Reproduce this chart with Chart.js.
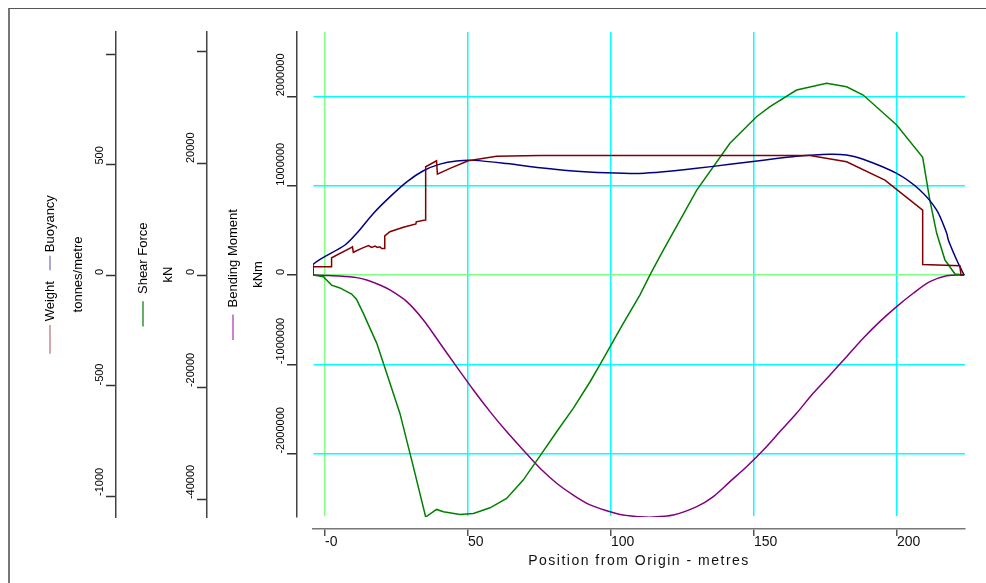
<!DOCTYPE html>
<html lang="en">
<head>
  <meta charset="UTF-8">
  <title>Longitudinal Strength</title>
  <script src="https://cdn.jsdelivr.net/npm/chart.js"></script>
  <style>
    * { margin: 0; padding: 0; box-sizing: border-box; }
    body { width: 986px; height: 583px; overflow: hidden; background: #fff; position: relative; }
    .frame {
      position: absolute; left: 8px; top: 8px; width: 1200px; height: 800px;
      border-left: 2px solid #777; border-top: 1px solid #555;
    }
    #strengthChart { position: absolute; left: 0; top: 0; }
  </style>
</head>
<body>
  <div class="frame"></div>
  <canvas id="strengthChart" width="986" height="583"></canvas>

  <script>
    const FONT = '"Liberation Sans", Arial, sans-serif';
    Chart.defaults.font.family = FONT;
    Chart.defaults.color = '#000';

    // position from origin (m) and values
    const weightX = [-4.2, -4.2, 2.3, 2.3, 9.3, 9.6, 9.9, 12.8, 15.2, 16.3, 17.5, 18.3, 19.2, 19.8, 20.8, 20.9, 22.7, 27.4,
      31.8, 31.9, 35.0, 35.2, 39.0, 39.3, 43.7, 50.1, 60, 75, 169.6, 182.4, 195.8, 209, 209, 222, 222.4, 223.5];
    const weightY = [0, 38, 38, 78, 125, 128, 103, 121, 133, 125, 131, 125, 128, 120, 120, 177, 196, 216,
      231, 241, 249, 490, 517, 457, 483, 517, 538, 541, 541, 513, 430, 294, 48, 42, 0, 0];

    const buoyX = [-4.2, -4.2, 7.0, 11.1, 16.9, 22.7, 28.6, 34.4, 40.2, 46.0, 51.9, 63.5, 75.2, 86.8, 98.5, 110.1,
      118.3, 130, 141.6, 153.3, 164.9, 176.6, 182.4, 188.2, 199.9, 208, 213.9, 217.4, 218.0, 220.9, 222.6, 223.5];
    const buoyY = [0, 48, 136, 189, 279, 354, 422, 472, 502, 516, 519, 505, 486, 471, 463, 460,
      467, 483, 501, 520, 538, 547, 543, 524, 460, 385, 294, 189, 158, 68, 23, 0];

    const shearX = [-4.2, -0.6, 2.3, 5.2, 9.3, 11.0, 13.4, 18.1, 21.6, 26.2, 30.9, 35.2, 39.0, 41.4, 47.2, 51.9, 57.7,
      63.5, 69.3, 75.8, 81.0, 86.8, 92.7, 96.2, 104.3, 110.1, 113.6, 118.3, 130, 141.6, 150.9, 155.6, 164.9, 175.4,
      182.4, 188.2, 199.9, 209, 211.5, 213.9, 216.8, 220.3, 223.5];
    const shearY = [0, -300, -1790, -2300, -3400, -4300, -6840, -12200, -17560, -24700, -34240, -43200, -41850, -42270,
      -42740, -42560, -41560, -39890, -36610, -31850, -27980, -23810, -19050, -15950, -8630, -3570, 0, 4465, 15180,
      23520, 28270, 30060, 33040, 34240, 33630, 32150, 26790, 21020, 13395, 7450, 2680, 180, 0];

    const bendX = [-4.2, 0, 5, 11.1, 14.6, 19.2, 22.7, 28.6, 34.4, 40.2, 46, 51.9, 57.7, 63.5, 69.3, 75.2, 81, 86.8,
      92.7, 98.5, 104.3, 110.1, 113.6, 121.8, 130, 135.8, 141.6, 147.4, 153.3, 159.1, 164.9, 170.7, 176.6, 182.4,
      188.2, 194, 199.9, 205.7, 211.5, 217.4, 223.5];
    const bendY = [0, -5000, -12000, -30000, -56000, -112000, -168000, -299000, -504000, -765000, -1027000, -1288000,
      -1530000, -1754000, -1960000, -2165000, -2332000, -2464000, -2575000, -2639000, -2688000, -2708000, -2712000,
      -2688000, -2594000, -2482000, -2314000, -2147000, -1960000, -1754000, -1549000, -1325000, -1120000, -915000,
      -709000, -523000, -355000, -205000, -75000, -8000, 0];

    const xTicks = [0, 50, 100, 150, 200];
    const xTickLabels = ['-0', '50', '100', '150', '200'];
    const weightTicks = [-1000, -500, 0, 500, 1000];
    const weightTickLabels = ['-1000', '-500', '0', '500', ''];
    const shearTicks = [-40000, -20000, 0, 20000, 40000];
    const shearTickLabels = ['-40000', '-20000', '0', '20000', ''];
    const bendTicks = [-2000000, -1000000, 0, 1000000, 2000000];
    const bendTickLabels = ['-2000000', '-1000000', '0', '1000000', '2000000'];

    // axis titles; the space runs get a coloured key line drawn over them
    const legendLines = {
      yW: { text: '         Weight        Buoyancy', lh: 28, pad: 6, segs: [[0, 8, '#c07878'], [18, 22, '#7878c8']] },
      yS: { text: '         Shear Force', lh: 25, pad: 14.5, segs: [[0, 7, '#188018']] },
      yB: { text: '         Bending Moment', lh: 25, pad: 13.5, segs: [[0, 7, '#b040b0']] }
    };

    const pts = (xs, ys) => xs.map((x, i) => ({ x: x, y: ys[i] }));
    const fixTicks = vals => scale => { scale.ticks = vals.map(v => ({ value: v })); };
    const gridColor = c => (c.tick && c.tick.value === 0) ? '#80ff80' : '#00ffff';

    function sideAxis(weight, width, min, max, ticks, labels, key, unit, grid) {
      return {
        type: 'linear', position: 'left', weight: weight, min: min, max: max,
        afterBuildTicks: fixTicks(ticks),
        afterFit: s => { s.width = width; },
        grid: Object.assign({ tickLength: 10, tickColor: '#333', tickWidth: 1.5 }, grid),
        border: { color: '#444', width: 1.5 },
        ticks: {
          callback: (v, i) => labels[i], minRotation: 90, maxRotation: 90, padding: 6,
          crossAlign: 'near', autoSkip: false, font: { size: 11 }, color: '#000'
        },
        title: {
          display: true, text: [legendLines[key].text, unit], color: '#000',
          font: { size: 13, lineHeight: legendLines[key].lh + 'px' },
          padding: { top: legendLines[key].pad, bottom: 0 }
        }
      };
    }

    const axisDecor = {
      id: 'axisDecor',
      beforeDraw(chart) {
        // rotated labels read upwards from their tick
        ['yW', 'yS', 'yB'].forEach(id => {
          chart.scales[id].getLabelItems().forEach(item => { item.options.textAlign = 'left'; });
        });
        const xs = chart.scales.x;
        if (!xs.spacedTitle) {
          const drawTitle = xs.drawTitle;
          xs.drawTitle = function () {
            this.ctx.save();
            this.ctx.letterSpacing = '1.5px';
            drawTitle.call(this);
            this.ctx.restore();
          };
          xs.spacedTitle = true;
        }
      },
      afterDraw(chart) {
        const ctx = chart.ctx;
        ctx.save();
        ctx.font = '13px ' + FONT;
        ctx.lineWidth = 1.3;
        Object.keys(legendLines).forEach(id => {
          const scale = chart.scales[id];
          const cfg = legendLines[id];
          const x = scale.left + cfg.pad + cfg.lh / 2;
          const y0 = (scale.top + scale.bottom) / 2 + ctx.measureText(cfg.text).width / 2;
          cfg.segs.forEach(([a, b, color]) => {
            ctx.strokeStyle = color;
            ctx.beginPath();
            ctx.moveTo(x, y0 - ctx.measureText(cfg.text.slice(0, a)).width);
            ctx.lineTo(x, y0 - ctx.measureText(cfg.text.slice(0, b)).width);
            ctx.stroke();
          });
        });
        ctx.restore();
      }
    };

    const line = (label, data, axis, color, tension) => ({
      label: label, data: data, xAxisID: 'x', yAxisID: axis, borderColor: color,
      backgroundColor: color, borderWidth: 1.5, pointRadius: 0, tension: tension, fill: false
    });

    new Chart(document.getElementById('strengthChart'), {
      type: 'line',
      data: {
        datasets: [
          line('Weight', pts(weightX, weightY), 'yW', '#800000', 0),
          line('Buoyancy', pts(buoyX, buoyY), 'yW', '#000080', 0.3),
          line('Shear Force', pts(shearX, shearY), 'yS', '#008000', 0),
          line('Bending Moment', pts(bendX, bendY), 'yB', '#800080', 0.3)
        ]
      },
      options: {
        responsive: false,
        animation: false,
        events: [],
        layout: { padding: { left: 30, right: 21, top: 32, bottom: 4 } },
        plugins: { legend: { display: false }, tooltip: { enabled: false } },
        scales: {
          x: {
            type: 'linear', position: 'bottom', weight: 1, min: -4.2, max: 223.8,
            afterBuildTicks: fixTicks(xTicks),
            afterFit: s => { s.height = 50; },
            grid: { color: gridColor, lineWidth: 1.5, tickLength: 7, tickColor: '#555', tickWidth: 1.5 },
            border: { color: '#777', width: 1.5 },
            ticks: {
              callback: (v, i) => xTickLabels[i], align: 'start', padding: -2, maxRotation: 0,
              autoSkip: false, font: { size: 14 }, color: '#111'
            },
            title: {
              display: true, text: 'Position from Origin - metres', color: '#111',
              font: { size: 14 }, padding: { top: 0, bottom: 9 }
            }
          },
          xGap: {
            type: 'linear', position: 'bottom', weight: 0, display: true,
            grid: { display: false }, border: { display: false }, ticks: { display: false },
            afterFit: s => { s.height = 12; }
          },
          yW: sideAxis(3, 86, -1095, 1100, weightTicks, weightTickLabels, 'yW', 'tonnes/metre', { drawOnChartArea: false }),
          yS: sideAxis(2, 91, -43200, 43400, shearTicks, shearTickLabels, 'yS', 'kN', { drawOnChartArea: false }),
          yB: sideAxis(1, 90, -2710000, 2720000, bendTicks, bendTickLabels, 'yB', 'kNm', { color: gridColor, lineWidth: 1.5 }),
          yGap: {
            type: 'linear', position: 'left', weight: 0, display: true,
            grid: { display: false }, border: { display: false }, ticks: { display: false },
            afterFit: s => { s.width = 16; }
          }
        }
      },
      plugins: [axisDecor]
    });
  </script>
</body>
</html>
